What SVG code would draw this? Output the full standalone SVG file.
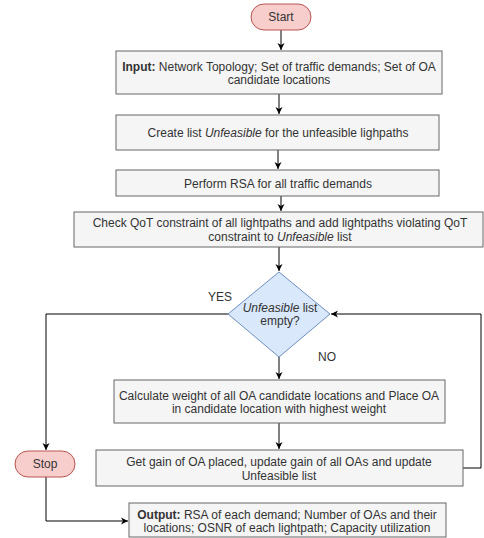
<svg xmlns="http://www.w3.org/2000/svg" width="484" height="538" viewBox="0 0 484 538">
<defs>
<marker id="arr" markerWidth="8" markerHeight="8" refX="7" refY="4" orient="auto" markerUnits="userSpaceOnUse">
<path d="M0,0.5 L7,4 L0,7.5 L2,4 Z" fill="#000"/>
</marker>
<style>
text{font-family:"Liberation Sans",Arial,sans-serif;font-size:12px;fill:#333;text-anchor:middle}
.box{fill:#f5f5f5;stroke:#666;stroke-width:1}
.term{fill:#f8cecc;stroke:#b85450;stroke-width:1}
.dia{fill:#dae8fc;stroke:#6c8ebf;stroke-width:1}
.ln{fill:none;stroke:#000;stroke-width:1;marker-end:url(#arr)}
</style>
</defs>
<rect width="484" height="538" fill="#fff"/>
<g id="connectors">
<path class="ln" d="M281,30 V50"/>
<path class="ln" d="M279,94 V114"/>
<path class="ln" d="M278,150 V169"/>
<path class="ln" d="M281,196 V211"/>
<path class="ln" d="M279,247 V271"/>
<path class="ln" d="M228,314 H46 V450"/>
<path class="ln" d="M279,357 V379"/>
<path class="ln" d="M279,423 V449"/>
<path class="ln" d="M463,468 H481 V314 H331"/>
<path class="ln" d="M46,477 V521 H128"/>
<text x="220" y="301">YES</text>
<text x="327" y="361">NO</text>
</g>
<g id="start">
<rect class="term" x="251" y="4" width="60" height="26" rx="13"/>
<text x="281" y="21">Start</text>
</g>
<g id="input">
<rect class="box" x="116" y="51" width="326" height="43"/>
<text x="279" y="71"><tspan font-weight="bold">Input:</tspan> Network Topology; Set of traffic demands; Set of OA</text>
<text x="279" y="84">candidate locations</text>
</g>
<g id="create">
<rect class="box" x="116" y="115" width="323" height="35"/>
<text x="278" y="137">Create list <tspan font-style="italic">Unfeasible</tspan> for the unfeasible lighpaths</text>
</g>
<g id="rsa">
<rect class="box" x="116" y="170" width="323" height="26"/>
<text x="278" y="188">Perform RSA for all traffic demands</text>
</g>
<g id="qot">
<rect class="box" x="74" y="212" width="409" height="35"/>
<text x="280" y="227">Check QoT constraint of all lightpaths and add lightpaths violating QoT</text>
<text x="280" y="241">constraint to <tspan font-style="italic">Unfeasible</tspan> list</text>
</g>
<g id="decision">
<path class="dia" d="M279,272 L330,314 L279,357 L228,314 Z"/>
<text x="280" y="312"><tspan font-style="italic">Unfeasible</tspan> list</text>
<text x="280" y="325">empty?</text>
</g>
<g id="calc">
<rect class="box" x="114" y="380" width="331" height="43"/>
<text x="279" y="400">Calculate weight of all OA candidate locations and Place OA</text>
<text x="279" y="413">in candidate location with highest weight</text>
</g>
<g id="gain">
<rect class="box" x="96" y="450" width="367" height="36"/>
<text x="279" y="466">Get gain of OA placed, update gain of all OAs and update</text>
<text x="279" y="480">Unfeasible list</text>
</g>
<g id="stop">
<rect class="term" x="15" y="451" width="60" height="26" rx="13"/>
<text x="45" y="468">Stop</text>
</g>
<g id="output">
<rect class="box" x="129" y="503" width="317" height="34"/>
<text x="287" y="519"><tspan font-weight="bold">Output:</tspan> RSA of each demand; Number of OAs and their</text>
<text x="287" y="532">locations; OSNR of each lightpath; Capacity utilization</text>
</g>
</svg>
